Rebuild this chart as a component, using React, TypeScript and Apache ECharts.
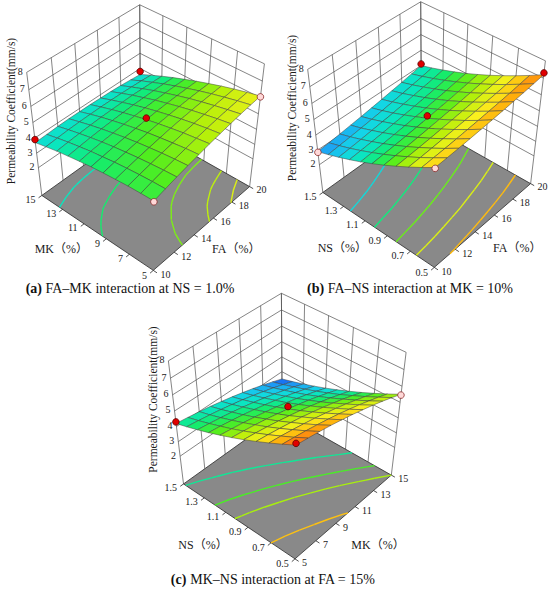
import React, { useEffect, useRef } from "react";
import * as echarts from "echarts";

// ---------------- data ----------------
const FA_TICKS = [10, 12, 14, 16, 18, 20];
const MK_TICKS = [5, 7, 9, 11, 13, 15];
const NS_TICKS = [0.5, 0.7, 0.9, 1.1, 1.3, 1.5];
const Z_TICKS = [2, 3, 4, 5, 6, 7, 8];
const Z_MAX = 8;

const FA_STEPS = [10, 11, 12, 13, 14, 15, 16, 17, 18, 19, 20];
const MK_STEPS = [5, 6, 7, 8, 9, 10, 11, 12, 13, 14, 15];
const NS_STEPS = [0.5, 0.6, 0.7, 0.8, 0.9, 1.0, 1.1, 1.2, 1.3, 1.4, 1.5];

// (a) rows: MK 5 -> 15, columns: FA 10 -> 20  (NS = 1.0 %)
const SURFACE_A = [
  [4.75, 4.94, 5.12, 5.28, 5.43, 5.58, 5.70, 5.82, 5.93, 6.02, 6.10],
  [4.72, 4.90, 5.06, 5.21, 5.35, 5.47, 5.59, 5.69, 5.78, 5.86, 5.93],
  [4.68, 4.84, 4.98, 5.12, 5.24, 5.36, 5.46, 5.54, 5.62, 5.68, 5.74],
  [4.61, 4.76, 4.89, 5.01, 5.12, 5.22, 5.31, 5.38, 5.44, 5.49, 5.53],
  [4.53, 4.67, 4.78, 4.89, 4.99, 5.07, 5.14, 5.20, 5.25, 5.28, 5.30],
  [4.44, 4.55, 4.66, 4.75, 4.83, 4.90, 4.96, 5.00, 5.03, 5.05, 5.06],
  [4.32, 4.43, 4.52, 4.59, 4.66, 4.71, 4.76, 4.79, 4.80, 4.81, 4.80],
  [4.19, 4.28, 4.36, 4.42, 4.47, 4.51, 4.54, 4.55, 4.56, 4.55, 4.53],
  [4.05, 4.12, 4.18, 4.23, 4.27, 4.29, 4.30, 4.31, 4.29, 4.27, 4.24],
  [3.88, 3.94, 3.99, 4.02, 4.04, 4.05, 4.05, 4.04, 4.01, 3.98, 3.93],
  [3.70, 3.74, 3.78, 3.80, 3.80, 3.80, 3.78, 3.76, 3.72, 3.66, 3.60],
];

// (b) rows: NS 0.5 -> 1.5, columns: FA 10 -> 20  (MK = 10 %)
const SURFACE_B = [
  [6.60, 6.63, 6.67, 6.72, 6.77, 6.83, 6.89, 6.96, 7.03, 7.11, 7.20],
  [6.12, 6.16, 6.20, 6.25, 6.31, 6.37, 6.44, 6.51, 6.59, 6.68, 6.77],
  [5.67, 5.71, 5.76, 5.82, 5.88, 5.94, 6.02, 6.10, 6.18, 6.27, 6.37],
  [5.24, 5.29, 5.34, 5.40, 5.47, 5.54, 5.62, 5.70, 5.79, 5.89, 5.99],
  [4.83, 4.89, 4.94, 5.01, 5.08, 5.16, 5.24, 5.33, 5.42, 5.53, 5.63],
  [4.45, 4.51, 4.57, 4.64, 4.72, 4.80, 4.89, 4.98, 5.08, 5.19, 5.30],
  [4.09, 4.16, 4.22, 4.30, 4.38, 4.47, 4.56, 4.66, 4.76, 4.88, 4.99],
  [3.76, 3.83, 3.90, 3.98, 4.07, 4.16, 4.26, 4.36, 4.47, 4.59, 4.71],
  [3.45, 3.52, 3.60, 3.69, 3.78, 3.87, 3.98, 4.09, 4.20, 4.32, 4.45],
  [3.16, 3.24, 3.32, 3.41, 3.51, 3.61, 3.72, 3.83, 3.95, 4.08, 4.21],
  [2.90, 2.98, 3.07, 3.17, 3.27, 3.38, 3.49, 3.61, 3.73, 3.86, 4.00],
];

// (c) rows: NS 0.5 -> 1.5, columns: MK 5 -> 15  (FA = 15 %)
const SURFACE_C = [
  [7.40, 7.28, 7.15, 7.00, 6.83, 6.65, 6.45, 6.24, 6.01, 5.76, 5.50],
  [6.99, 6.87, 6.74, 6.59, 6.43, 6.25, 6.05, 5.84, 5.61, 5.37, 5.11],
  [6.60, 6.49, 6.36, 6.21, 6.05, 5.87, 5.68, 5.47, 5.24, 5.00, 4.74],
  [6.23, 6.12, 5.99, 5.85, 5.69, 5.51, 5.32, 5.11, 4.89, 4.65, 4.39],
  [5.88, 5.77, 5.64, 5.50, 5.34, 5.17, 4.98, 4.77, 4.55, 4.31, 4.06],
  [5.55, 5.44, 5.32, 5.18, 5.02, 4.85, 4.66, 4.46, 4.24, 4.00, 3.75],
  [5.24, 5.13, 5.01, 4.87, 4.72, 4.55, 4.36, 4.16, 3.94, 3.71, 3.46],
  [4.95, 4.85, 4.73, 4.59, 4.44, 4.27, 4.09, 3.89, 3.67, 3.44, 3.19],
  [4.68, 4.58, 4.46, 4.33, 4.18, 4.01, 3.83, 3.63, 3.42, 3.19, 2.94],
  [4.43, 4.33, 4.21, 4.08, 3.93, 3.77, 3.59, 3.39, 3.18, 2.95, 2.71],
  [4.20, 4.10, 3.99, 3.86, 3.71, 3.55, 3.37, 3.18, 2.97, 2.74, 2.50],
];

// design points: [column factor, row factor, measured value, 1 = above surface (red) / 0 = below (pink)]
const POINTS_A = [[10, 15, 3.9, 1], [20, 15, 3.8, 1], [15, 10, 5.0, 1], [10, 5, 4.7, 0], [20, 5, 6.05, 0]];
const POINTS_B = [[10, 1.5, 2.85, 0], [10, 0.5, 6.55, 0], [20, 0.5, 7.3, 1], [20, 1.5, 4.1, 1], [15, 1.0, 4.95, 1]];
const POINTS_C = [[5, 1.5, 4.3, 1], [5, 0.5, 7.5, 1], [15, 0.5, 5.45, 0], [10, 1.0, 5.0, 1]];

// contour levels projected on the floor
const LEVELS_A = [4.0, 4.5, 5.25, 5.65, 5.92];
const LEVELS_B = [3.65, 4.4, 5.15, 5.9, 6.65];
const LEVELS_C = [4.25, 4.95, 5.5, 6.6];

const Z_TITLE = "Permeability Coefficient(mm/s)";

// ---------------- styling / layout ----------------
const SERIF = '"Liberation Serif", "Times New Roman", serif';
const SERIF_CJK = '"Liberation Serif", "Noto Sans CJK SC", serif';

const CMAP: [number, number[]][] = [
  [2.0, [10, 20, 230]],
  [2.5, [20, 80, 240]],
  [3.0, [30, 160, 245]],
  [3.5, [20, 212, 232]],
  [4.0, [10, 230, 190]],
  [4.5, [20, 236, 110]],
  [5.0, [80, 238, 30]],
  [5.6, [185, 240, 10]],
  [6.2, [250, 240, 30]],
  [6.8, [255, 170, 10]],
  [7.4, [250, 95, 25]],
  [8.0, [235, 25, 0]],
];
function colorOf(v: number) {
  if (v <= CMAP[0][0]) return `rgb(${CMAP[0][1].join(",")})`;
  for (let k = 1; k < CMAP.length; k++) {
    if (v <= CMAP[k][0]) {
      const [v0, c0] = CMAP[k - 1];
      const [v1, c1] = CMAP[k];
      const t = (v - v0) / (v1 - v0);
      const c = c0.map((x, i) => Math.round(x + (c1[i] - x) * t));
      return `rgb(${c.join(",")})`;
    }
  }
  return `rgb(${CMAP[CMAP.length - 1][1].join(",")})`;
}

const DEG = Math.PI / 180;
const VIEW = { beta: 48.5 * DEG, alpha: 44 * DEG, dist: 11.2, scale: 73.6, height: 2.03 };
const CB = Math.cos(VIEW.beta);
const SB = Math.sin(VIEW.beta);
const CA = Math.cos(VIEW.alpha);
const SA = Math.sin(VIEW.alpha);

type Panel = {
  cx: number;
  cy: number;
  cols: number[];
  rows: number[];
  grid: number[][];
  points: number[][];
  levels: number[];
  colTicks: number[];
  rowTicks: number[];
  colName: string;
  rowName: string;
  capTag: string;
  capText: string;
  capX: number;
  capY: number;
  nameDy: number;
};

const PANELS: Panel[] = [
  {
    cx: 146.3, cy: 191, cols: FA_STEPS, rows: MK_STEPS, grid: SURFACE_A, points: POINTS_A, levels: LEVELS_A,
    colTicks: FA_TICKS, rowTicks: MK_TICKS, colName: "FA（%）", rowName: "MK（%）",
    capTag: "(a)", capText: " FA–MK interaction at NS = 1.0%", capX: 130, capY: 288, nameDy: 58,
  },
  {
    cx: 427.3, cy: 188, cols: FA_STEPS, rows: NS_STEPS, grid: SURFACE_B, points: POINTS_B, levels: LEVELS_B,
    colTicks: FA_TICKS, rowTicks: NS_TICKS, colName: "FA（%）", rowName: "NS（%）",
    capTag: "(b)", capText: " FA–NS interaction at MK = 10%", capX: 410, capY: 288, nameDy: 60,
  },
  {
    cx: 288, cy: 479.5, cols: MK_STEPS, rows: NS_STEPS, grid: SURFACE_C, points: POINTS_C, levels: LEVELS_C,
    colTicks: MK_TICKS, rowTicks: NS_TICKS, colName: "MK（%）", rowName: "NS（%）",
    capTag: "(c)", capText: " MK–NS interaction at FA = 15%", capX: 273, capY: 579, nameDy: 65,
  },
];

function project(p: Panel, a: number, b: number, v: number) {
  const Z = (VIEW.height * v) / Z_MAX;
  const s = a * CB - b * SB;
  const d = a * SB + b * CB;
  const t = Z * CA + d * SA;
  const q = d * CA - Z * SA;
  const f = VIEW.dist / (VIEW.dist + q);
  return [p.cx + VIEW.scale * s * f, p.cy - VIEW.scale * t * f, q];
}
const normCol = (p: Panel, x: number) => (2 * (x - p.cols[0])) / (p.cols[p.cols.length - 1] - p.cols[0]) - 1;
const normRow = (p: Panel, y: number) => (2 * (y - p.rows[0])) / (p.rows[p.rows.length - 1] - p.rows[0]) - 1;

type Seg = { p: Panel; a: number[]; b: number[]; color: string; width: number };

function buildScene() {
  const walls: Seg[] = [];
  const floorMarks: Seg[] = [];
  const cells: { p: Panel; pts: number[][]; color: string; q: number }[] = [];
  const labels: { p: Panel; at: number[]; text: string; align: string; dx: number; dy: number }[] = [];
  const dots: { p: Panel; at: number[]; above: number }[] = [];

  for (const p of PANELS) {
    const wc = "#505050";
    // left wall: plane b = +1
    for (const t of p.colTicks) {
      const a = normCol(p, t);
      walls.push({ p, a: [a, 1, 0], b: [a, 1, Z_MAX], color: wc, width: 0.7 });
    }
    // right wall: plane a = +1
    for (const t of p.rowTicks) {
      const b = normRow(p, t);
      walls.push({ p, a: [1, b, 0], b: [1, b, Z_MAX], color: wc, width: 0.7 });
    }
    for (const z of Z_TICKS) {
      walls.push({ p, a: [-1, 1, z], b: [1, 1, z], color: wc, width: 0.7 });
      walls.push({ p, a: [1, -1, z], b: [1, 1, z], color: wc, width: 0.7 });
      labels.push({ p, at: [-1, 1, z], text: String(z), align: "right", dx: -4, dy: -1 });
    }
    // floor ticks + labels
    for (const t of p.colTicks) {
      const a = normCol(p, t);
      floorMarks.push({ p, a: [a, -1, 0], b: [a, -1.06, 0], color: "#222", width: 0.8 });
      labels.push({ p, at: [a, -1.1, 0], text: String(t), align: "left", dx: 1, dy: 0 });
    }
    for (const t of p.rowTicks) {
      const b = normRow(p, t);
      floorMarks.push({ p, a: [-1, b, 0], b: [-1.06, b, 0], color: "#222", width: 0.8 });
      labels.push({ p, at: [-1.1, b, 0], text: String(t), align: "right", dx: -1, dy: 0 });
    }
    // contours (marching squares on the surface grid)
    const G = p.grid;
    const R = G.length;
    const C = G[0].length;
    for (const lv of p.levels) {
      const col = colorOf(lv);
      for (let i = 0; i < R - 1; i++) {
        for (let j = 0; j < C - 1; j++) {
          const vs = [G[i][j], G[i][j + 1], G[i + 1][j + 1], G[i + 1][j]];
          const ps = [[j, i], [j + 1, i], [j + 1, i + 1], [j, i + 1]];
          const hits: number[][] = [];
          for (let e = 0; e < 4; e++) {
            const k = (e + 1) % 4;
            if ((vs[e] < lv) !== (vs[k] < lv)) {
              const t = (lv - vs[e]) / (vs[k] - vs[e]);
              const gj = ps[e][0] + t * (ps[k][0] - ps[e][0]);
              const gi = ps[e][1] + t * (ps[k][1] - ps[e][1]);
              hits.push([(2 * gj) / (C - 1) - 1, (2 * gi) / (R - 1) - 1, 0]);
            }
          }
          if (hits.length >= 2) floorMarks.push({ p, a: hits[0], b: hits[1], color: col, width: 1.4 });
          if (hits.length === 4) floorMarks.push({ p, a: hits[2], b: hits[3], color: col, width: 1.4 });
        }
      }
    }
    // surface cells
    for (let i = 0; i < R - 1; i++) {
      for (let j = 0; j < C - 1; j++) {
        const corners = [
          [j, i],
          [j + 1, i],
          [j + 1, i + 1],
          [j, i + 1],
        ].map(([jj, ii]) => [(2 * jj) / (C - 1) - 1, (2 * ii) / (R - 1) - 1, G[ii][jj]]);
        const mean = (G[i][j] + G[i][j + 1] + G[i + 1][j + 1] + G[i + 1][j]) / 4;
        let q = 0;
        for (const c of corners) q += project(p, c[0], c[1], c[2])[2];
        cells.push({ p, pts: corners, color: colorOf(mean), q: q / 4 });
      }
    }
    for (const d of p.points) {
      dots.push({ p, at: [normCol(p, d[0]), normRow(p, d[1]), d[2]], above: d[3] });
    }
  }
  cells.sort((u, v) => v.q - u.q);
  return { walls, floorMarks, cells, labels, dots };
}

function segSeries(list: Seg[], z: number) {
  return {
    type: "custom",
    coordinateSystem: "cartesian2d",
    silent: true,
    clip: false,
    z,
    data: list.map(() => [0, 0]),
    renderItem: (params: any, api: any) => {
      const s = list[params.dataIndex];
      const A = project(s.p, s.a[0], s.a[1], s.a[2]);
      const B = project(s.p, s.b[0], s.b[1], s.b[2]);
      const pa = api.coord([A[0], A[1]]);
      const pb = api.coord([B[0], B[1]]);
      return {
        type: "line",
        shape: { x1: pa[0], y1: pa[1], x2: pb[0], y2: pb[1] },
        style: { stroke: s.color, lineWidth: s.width, fill: null },
      };
    },
  };
}

export default function App() {
  const ref = useRef<HTMLDivElement>(null);
  useEffect(() => {
    if (!ref.current) return;
    const chart = echarts.init(ref.current, undefined, { renderer: "svg" });
    const scene = buildScene();

    const series: any[] = [];
    series.push(segSeries(scene.walls, 1));
    series.push({
      type: "custom",
      coordinateSystem: "cartesian2d",
      silent: true,
      clip: false,
      z: 2,
      data: PANELS.map(() => [0, 0]),
      renderItem: (params: any, api: any) => {
        const p = PANELS[params.dataIndex];
        const pts = [[-1, -1], [1, -1], [1, 1], [-1, 1]].map(([a, b]) => {
          const P = project(p, a, b, 0);
          return api.coord([P[0], P[1]]);
        });
        return { type: "polygon", shape: { points: pts }, style: { fill: "#898989", stroke: "#2a2a2a", lineWidth: 0.8 } };
      },
    });
    series.push(segSeries(scene.floorMarks, 3));
    series.push({
      type: "custom",
      coordinateSystem: "cartesian2d",
      silent: true,
      clip: false,
      z: 4,
      data: scene.cells.map(() => [0, 0]),
      renderItem: (params: any, api: any) => {
        const c = scene.cells[params.dataIndex];
        const pts = c.pts.map((q) => {
          const P = project(c.p, q[0], q[1], q[2]);
          return api.coord([P[0], P[1]]);
        });
        return {
          type: "polygon",
          shape: { points: pts },
          style: { fill: c.color, stroke: "#404040", lineWidth: 0.5, lineJoin: "round" },
        };
      },
    });
    series.push({
      type: "custom",
      coordinateSystem: "cartesian2d",
      silent: true,
      clip: false,
      z: 5,
      data: scene.dots.map(() => [0, 0]),
      renderItem: (params: any, api: any) => {
        const d = scene.dots[params.dataIndex];
        const P = project(d.p, d.at[0], d.at[1], d.at[2]);
        const c = api.coord([P[0], P[1]]);
        return {
          type: "circle",
          shape: { cx: c[0], cy: c[1], r: 3.3 },
          style: d.above
            ? { fill: "#e00000", stroke: "#5a0000", lineWidth: 0.8 }
            : { fill: "#ffd8d8", stroke: "#8a2a2a", lineWidth: 0.8 },
        };
      },
    });
    series.push({
      type: "custom",
      coordinateSystem: "cartesian2d",
      silent: true,
      clip: false,
      z: 6,
      data: scene.labels.map(() => [0, 0]),
      renderItem: (params: any, api: any) => {
        const l = scene.labels[params.dataIndex];
        const P = project(l.p, l.at[0], l.at[1], l.at[2]);
        const c = api.coord([P[0], P[1]]);
        return {
          type: "text",
          x: c[0] + l.dx,
          y: c[1] + l.dy,
          style: {
            text: l.text,
            fill: "#1a1a1a",
            fontSize: 10,
            fontFamily: SERIF,
            align: l.align,
            verticalAlign: "middle",
            textAlign: l.align,
            textVerticalAlign: "middle",
          },
        };
      },
    });

    const graphics: any[] = [];
    for (const p of PANELS) {
      graphics.push({
        type: "text",
        x: p.cx - 135,
        y: p.cy - 80,
        rotation: Math.PI / 2,
        silent: true,
        style: {
          text: Z_TITLE, fill: "#1a1a1a", fontSize: 11.5, fontFamily: SERIF,
          align: "center", verticalAlign: "middle", textAlign: "center", textVerticalAlign: "middle",
        },
      });
      graphics.push({
        type: "text",
        x: p.cx - 85,
        y: p.cy + p.nameDy,
        silent: true,
        style: {
          text: p.rowName, fill: "#1a1a1a", fontSize: 12, fontFamily: SERIF_CJK,
          align: "center", verticalAlign: "middle", textAlign: "center", textVerticalAlign: "middle",
        },
      });
      graphics.push({
        type: "text",
        x: p.cx + 90,
        y: p.cy + p.nameDy,
        silent: true,
        style: {
          text: p.colName, fill: "#1a1a1a", fontSize: 12, fontFamily: SERIF_CJK,
          align: "center", verticalAlign: "middle", textAlign: "center", textVerticalAlign: "middle",
        },
      });
      graphics.push({
        type: "text",
        x: p.capX,
        y: p.capY,
        silent: true,
        style: {
          text: `{t|${p.capTag}}{n|${p.capText}}`,
          fill: "#111",
          fontSize: 14,
          fontFamily: SERIF,
          align: "center", verticalAlign: "middle", textAlign: "center", textVerticalAlign: "middle",
          rich: {
            t: { fontWeight: "bold", fontSize: 14, fontFamily: SERIF, fill: "#111" },
            n: { fontSize: 14, fontFamily: SERIF, fill: "#111" },
          },
        },
      });
    }

    chart.setOption({
      animation: false,
      backgroundColor: "#ffffff",
      grid: { left: 0, right: 0, top: 0, bottom: 0 },
      xAxis: { type: "value", min: 0, max: 550, show: false },
      yAxis: { type: "value", min: 0, max: 591, inverse: true, show: false },
      series,
      graphic: { elements: graphics },
    });
    return () => chart.dispose();
  }, []);
  return <div ref={ref} style={{ position: "fixed", left: 0, top: 0, width: 550, height: 591, background: "#fff" }} />;
}
